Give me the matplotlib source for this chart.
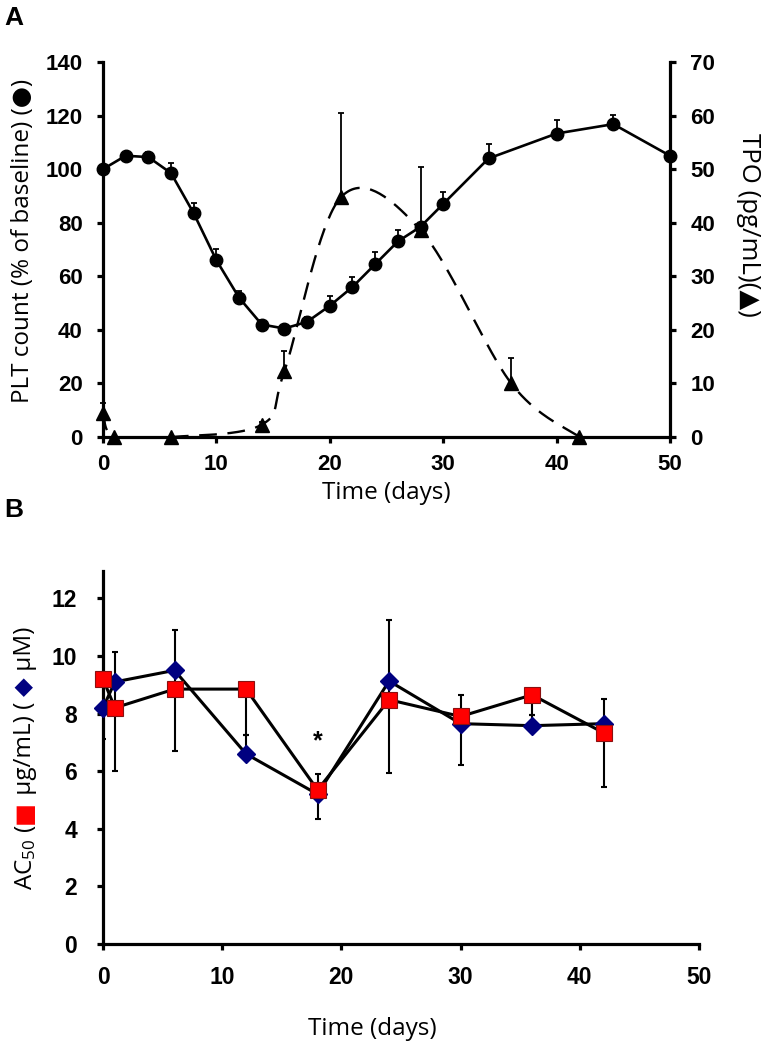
import numpy as np
import matplotlib
matplotlib.use('Agg')
from matplotlib import pyplot as plt

plt.rcParams['font.family'] = ['Liberation Sans', 'DejaVu Sans']
plt.rcParams['mathtext.fontset'] = 'custom'
plt.rcParams['mathtext.rm'] = 'Open Sans'
plt.rcParams['mathtext.it'] = 'Open Sans'

# 图A: 血小板计数 (% of baseline)
pltDays = [0, 2, 4, 6, 8, 10, 12, 14, 16, 18, 20, 22, 24, 26, 28, 30, 34, 40, 45, 50]
pltVals = [100, 105, 104.5, 98.5, 83.5, 66, 52, 42, 40.5, 43, 49, 56, 64.5, 73, 78.5, 87, 104, 113.3, 116.8, 105]
pltErr = [0, 0.8, 2, 3.9, 4, 4.3, 2.5, 1.8, 0, 1.8, 3.6, 3.7, 4.4, 4.2, 0, 4.3, 5.3, 5, 3.3, 0]

# 图A: TPO (pg/mL)
tpoDays = [0, 1, 6, 14, 16, 21, 28, 36, 42]
tpoVals = [4.5, 0, 0, 2.3, 12.3, 44.8, 38.6, 10, 0]
tpoErr = [1.8, 0, 0, 0.5, 3.8, 15.7, 11.8, 4.7, 0]

# 图B: AC50
acDays = [0, 1, 6, 12, 18, 24, 30, 36, 42]
acMolar = [8.2, 9.1, 9.5, 6.6, 5.2, 9.13, 7.65, 7.58, 7.65]      # µM, 蓝色菱形
acMass = [9.2, 8.2, 8.85, 8.85, 5.35, 8.48, 7.9, 8.65, 7.33]     # µg/mL, 红色方块
massLo = [7.1, 6.0, 6.7, 7.25, 5.35, 5.95, 6.2, 7.95, 5.45]
massHi = [9.2, 10.15, 10.9, 8.85, 5.35, 11.25, 8.65, 8.65, 8.5]
molarLo = [8.2, 9.1, 9.5, 6.6, 4.35, 9.13, 7.65, 7.58, 7.65]
molarHi = [8.2, 9.1, 9.5, 7.25, 5.9, 9.13, 7.65, 7.95, 7.65]

W, H = 762, 1048
fontA = ['Liberation Sans', 'DejaVu Sans']
fontB = ['Liberation Sans Narrow', 'Liberation Sans', 'DejaVu Sans']
labelFont = ['Open Sans', 'DejaVu Sans']
labelSize = 17.5


def smooth(x, y, n=40):
    #Excel风格的平滑曲线
    x = np.asarray(x, float)
    y = np.asarray(y, float)
    px = np.concatenate([[x[0]], x, [x[-1]]])
    py = np.concatenate([[y[0]], y, [y[-1]]])
    xs, ys = [], []
    t = np.linspace(0, 1, n)
    for i in range(1, len(px) - 2):
        p0 = np.array([px[i - 1], py[i - 1]])
        p1 = np.array([px[i], py[i]])
        p2 = np.array([px[i + 1], py[i + 1]])
        p3 = np.array([px[i + 2], py[i + 2]])
        c1 = p1 + (p2 - p0) / 6
        c2 = p2 - (p3 - p1) / 6
        b = ((1 - t)[:, None] ** 3 * p1 + 3 * ((1 - t) ** 2 * t)[:, None] * c1
             + 3 * ((1 - t) * t ** 2)[:, None] * c2 + (t ** 3)[:, None] * p2)
        xs.extend(b[:, 0])
        ys.extend(b[:, 1])
    return xs, ys


def style_axis(ax, right=False):
    for s in ['top', 'right', 'left', 'bottom']:
        ax.spines[s].set_visible(False)
    ax.spines['left'].set_visible(not right)
    ax.spines['right'].set_visible(right)
    ax.spines['bottom'].set_visible(True)
    for s in ax.spines.values():
        s.set_linewidth(2.3)
    ax.tick_params(direction='out', length=4.5, width=2.3)


def tick_font(ax, fam, size):
    for lab in ax.get_xticklabels() + ax.get_yticklabels():
        lab.set_family(fam)
        lab.set_fontweight('bold')
        lab.set_fontsize(size)


fig = plt.figure(figsize=(W / 100, H / 100), dpi=100)

#A
axA = fig.add_axes([103 / W, 1 - 437 / H, (670 - 103) / W, (437 - 62) / H])
axT = axA.twinx()
style_axis(axA)
style_axis(axT, right=True)
axT.spines['bottom'].set_visible(False)
axA.set_xlim(0, 50)
axA.set_ylim(0, 140)
axT.set_ylim(0, 70)
axA.set_xticks(range(0, 51, 10))
axA.set_yticks(range(0, 141, 20))
axT.set_yticks(range(0, 71, 10))
axA.tick_params(axis='y', pad=10)
axA.tick_params(axis='x', pad=8)
axT.tick_params(axis='y', pad=10)

axA.errorbar(pltDays, pltVals, yerr=[np.zeros(len(pltErr)), pltErr], fmt='none',
             ecolor='black', elinewidth=1.3, capsize=2.5, capthick=1.3, clip_on=False)
axA.plot(pltDays, pltVals, '-o', color='black', lw=1.9, ms=9, clip_on=False, zorder=3)

sx, sy = smooth(tpoDays, tpoVals)
axT.plot(sx, sy, color='black', lw=1.7, dashes=(7.5, 4.5))
axT.errorbar(tpoDays, tpoVals, yerr=[np.zeros(len(tpoErr)), tpoErr], fmt='none',
             ecolor='black', elinewidth=1.3, capsize=2.5, capthick=1.3, clip_on=False)
axT.plot(tpoDays, tpoVals, '^', color='black', ms=10, clip_on=False, zorder=3)

#B
axB = fig.add_axes([103 / W, 1 - 944 / H, (699 - 103) / W, (944 - 571) / H])
style_axis(axB)
axB.set_xlim(0, 50)
axB.set_ylim(0, 12.95)
axB.set_xticks(range(0, 51, 10))
axB.set_yticks(range(0, 13, 2))
axB.tick_params(axis='y', pad=14)
axB.tick_params(axis='x', pad=11)

mass = np.array(acMass)
molar = np.array(acMolar)
axB.errorbar(acDays, mass, yerr=[mass - np.array(massLo), np.array(massHi) - mass], fmt='none',
             ecolor='black', elinewidth=1.5, capsize=2.5, capthick=1.5, zorder=2)
axB.errorbar(acDays, molar, yerr=[molar - np.array(molarLo), np.array(molarHi) - molar], fmt='none',
             ecolor='black', elinewidth=1.5, capsize=2.5, capthick=1.5, zorder=2)
axB.plot(acDays, acMolar, '-D', color='black', lw=2.2, ms=9.5, mfc='#000080', mec='#000080',
         clip_on=False, zorder=3)
axB.plot(acDays, acMass, '-s', color='black', lw=2.2, ms=11.5, mfc='#ff0000', mec='#8b1010',
         mew=0.8, clip_on=False, zorder=4)
axB.text(18, 7.05, '*', ha='center', va='center', fontsize=18, fontweight='bold')

tick_font(axA, fontA, 16)
tick_font(axT, fontA, 16)
tick_font(axB, fontB, 16.5)

#坐标轴标题
fig.text(14 / W, 1 - 18 / H, 'A', fontsize=19, fontweight='bold', ha='center', va='center')
fig.text(14 / W, 1 - 510 / H, 'B', fontsize=19, fontweight='bold', ha='center', va='center')
fig.text(386 / W, 1 - 493 / H, 'Time (days)', fontsize=labelSize, family=labelFont, ha='center', va='center')
fig.text(372 / W, 1 - 1029 / H, 'Time (days)', fontsize=labelSize, family=labelFont, ha='center', va='center')
fig.text(23 / W, 1 - 241 / H, 'PLT count (% of baseline) (\u25cf)', fontsize=labelSize, family=labelFont,
         rotation=90, ha='center', va='center')
fig.text(749 / W, 1 - 225 / H, 'TPO (pg/mL)(\u25b2)', fontsize=labelSize + 1, family=labelFont,
         rotation=270, ha='center', va='center')

#B的纵轴标题, 分段拼接
pieces = [('AC$_{50}$ (', 'black'), ('\u25a0', '#ff0000'), (' \u00b5g/mL) ( ', 'black'),
          ('\u25c6', '#000080'), (' \u00b5M)', 'black')]
prev = fig.text(25 / W, 1 - 890 / H, pieces[0][0], fontsize=labelSize, family=labelFont,
                rotation=90, ha='center', va='bottom', color=pieces[0][1])
for txt, col in pieces[1:]:
    prev = axB.annotate(txt, xy=(0.5, 1), xycoords=prev, ha='center', va='bottom',
                        rotation=90, fontsize=labelSize, family=labelFont, color=col,
                        annotation_clip=False)

fig.savefig('out.png', dpi=100)
